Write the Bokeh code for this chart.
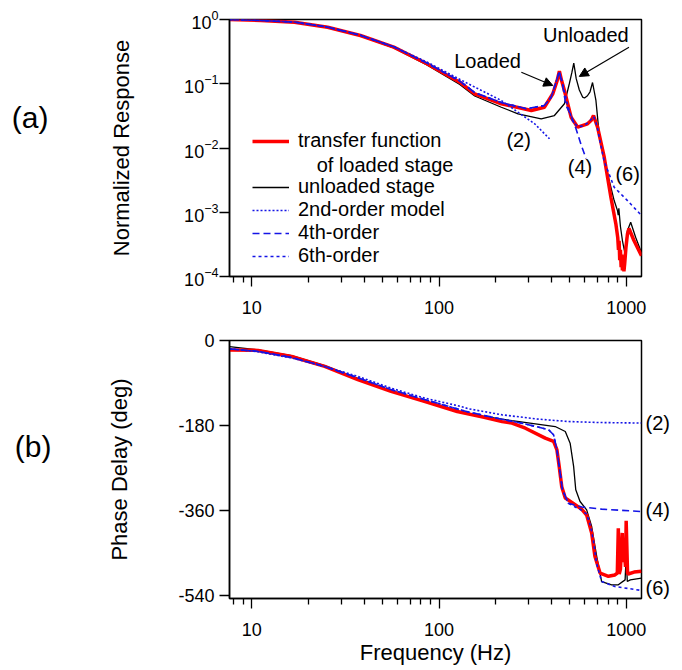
from bokeh.plotting import figure
from bokeh.layouts import column
from bokeh.models import (FixedTicker, Legend, LegendItem, Label, Arrow, NormalHead,
                          PrintfTickFormatter, Range1d, LogAxis, LinearAxis)
from bokeh.embed import file_html
from bokeh.resources import INLINE

FONT = "Liberation Sans"
RED = "#ff0000"
BLUE = "#1414e6"
BLACK = "#000000"

# ---------------- data: magnitude (panel a) ----------------
mag_f_loaded = [7.6, 11.2, 16.9, 25.4, 38.0, 57.3, 86.1, 129, 155, 215, 311, 365, 405, 427, 439,
                451, 467, 507, 550, 621, 650, 668, 685, 702, 762, 827, 879, 900, 908, 915, 922,
                930, 938, 945, 953, 962, 971, 980, 995, 1014, 1033, 1098, 1205]
mag_loaded = [1.0, 0.965, 0.908, 0.759, 0.564, 0.371, 0.205, 0.1057, 0.0698, 0.0488, 0.0384,
              0.0431, 0.0698, 0.112, 0.157, 0.112, 0.0785, 0.0302, 0.0211, 0.0238, 0.027, 0.032,
              0.026, 0.0211, 0.0072, 0.00171, 0.00066, 0.0004, 0.00026, 0.00036, 0.00018,
              0.00026, 0.00014, 0.00022, 0.000124, 0.00019, 0.00012, 0.000159, 0.00028,
              0.00046, 0.000558, 0.000363, 0.00021]

mag_f_unloaded = [7.6, 11.2, 16.9, 25.4, 38.0, 57.3, 86.1, 129, 155, 215, 264, 351, 413, 467,
                  496, 512, 524, 540, 561, 584, 598, 620, 640, 660, 688, 716, 762, 794, 861, 897,
                  905, 912, 930, 953, 980, 1014, 1055, 1121, 1205]
mag_unloaded = [1.0, 0.963, 0.903, 0.752, 0.556, 0.36, 0.196, 0.0973, 0.0645, 0.0431, 0.034,
                0.0283, 0.032, 0.0488, 0.1, 0.15, 0.21, 0.12, 0.08, 0.062, 0.06, 0.065, 0.075,
                0.1046, 0.0549, 0.0166, 0.00764, 0.00397, 0.00152, 0.00106, 0.0009, 0.00115,
                0.0006, 0.000363, 0.000239, 0.00052, 0.0007, 0.000409, 0.000235]

mag_f_2nd = [7.6, 11.2, 16.9, 25.4, 38.0, 57.3, 86.1, 143, 215, 264, 324, 389]
mag_2nd = [1.0, 0.968, 0.912, 0.765, 0.57, 0.378, 0.218, 0.1, 0.0549, 0.036, 0.0238, 0.0139]

mag_f_4th = [7.6, 11.2, 16.9, 25.4, 38.0, 57.3, 86.1, 129, 155, 215, 292, 365, 397, 421, 439,
             457, 476, 507, 538, 573, 609]
mag_4th = [1.0, 0.966, 0.91, 0.762, 0.567, 0.375, 0.21, 0.11, 0.073, 0.051, 0.0408, 0.0458,
           0.0618, 0.105, 0.155, 0.094, 0.0458, 0.032, 0.0201, 0.01135, 0.00687]

mag_f_6th = [7.6, 11.2, 16.9, 25.4, 38.0, 57.3, 86.1, 129, 155, 215, 292, 365, 397, 421, 439,
             457, 487, 517, 550, 590, 621, 650, 668, 685, 702, 731, 762, 861, 1014, 1205]
mag_6th = [1.0, 0.966, 0.91, 0.762, 0.567, 0.375, 0.21, 0.11, 0.073, 0.051, 0.0408, 0.0458,
           0.0618, 0.105, 0.155, 0.1, 0.045, 0.026, 0.0215, 0.022, 0.0245, 0.028, 0.031, 0.026,
           0.02, 0.0109, 0.0062, 0.00245, 0.00152, 0.00089]

# ---------------- data: phase (panel b) ----------------
ph_f_loaded = [7.6, 10.8, 16.3, 24.5, 36.8, 55.4, 83.4, 125, 174, 217, 245, 289, 369, 409, 426,
               438, 452, 472, 533, 578, 614, 653, 680, 724, 802, 869, 895, 906, 916, 930, 951,
               962, 975, 990, 998, 1015, 1023, 1100, 1205]
ph_loaded = [-20, -21, -34, -55, -83, -108, -129, -150.6, -163, -172, -175, -186, -207, -214,
             -232, -267, -310, -334, -348, -358, -370, -408, -458, -493, -500, -497, -493, -398,
             -495, -485, -408, -470, -444, -480, -382, -493, -495, -491, -489]

ph_f_unloaded = [7.6, 10.8, 16.3, 24.5, 36.8, 55.4, 83.4, 125, 174, 245, 327, 417, 472, 501,
                 523, 537, 566, 614, 653, 695, 738, 834, 906, 985, 998, 1012, 1050, 1205]
ph_unloaded = [-13, -20, -32, -53, -80, -106, -128, -149, -161, -170, -176.7, -182.4, -193,
               -217.6, -267, -316.6, -341.4, -359, -394.4, -458, -511, -518, -518, -507.5,
               -458, -511, -507.5, -504]

ph_f_2nd = [7.6, 10.8, 16.3, 24.5, 36.8, 55.4, 83.4, 125, 145, 217, 339, 490, 711, 1205]
ph_2nd = [-17, -24, -37, -55, -76, -101, -122, -138, -145, -157.6, -166.7, -171.8, -173.9, -175]

ph_f_4th = [7.6, 10.8, 16.3, 24.5, 36.8, 55.4, 83.4, 125, 145, 217, 289, 384, 409, 426, 438,
            456, 490, 578, 738, 1205]
ph_4th = [-18, -23, -36, -55, -79, -104, -125, -145, -152, -167, -177, -189, -200, -232, -267,
          -316.6, -345, -353, -357.6, -362.6]

ph_f_6th = [7.6, 10.8, 16.3, 24.5, 36.8, 55.4, 83.4, 125, 145, 217, 289, 384, 409, 426, 438,
            456, 490, 533, 578, 614, 645, 666, 693, 738, 869, 1205]
ph_6th = [-18, -23, -36, -55, -79, -104, -125, -145, -152, -167, -177, -189, -200, -232, -267,
          -316.6, -345, -353, -360, -368, -395, -423, -472, -511, -521.6, -530]

# axes / ticks
x_major = [10, 100, 1000]
x_minor = [8, 9, 20, 30, 40, 50, 60, 70, 80, 90, 200, 300, 400, 500, 600, 700, 800, 900]
mag_ticks = [1e-4, 1e-3, 1e-2, 1e-1, 1]
phase_ticks = [-540, -360, -180, 0]

# annotation anchors (data units)
loaded_text = (181.6, 0.222)
loaded_arrow = (275, 0.151, 405, 0.094)
unloaded_text = (608, 0.574)
unloaded_arrow = (1033, 0.371, 561, 0.130)
legend_line2 = ("of loaded stage", 22.2, 0.0055)
mag_order_labels = [("(2)", 266, 0.0131), ("(4)", 566, 0.00515), ("(6)", 1016, 0.0040)]
phase_order_labels = {-175.3: "(2)", -359.0: "(4)", -525.0: "(6)"}
panel_a_tag = {0.0298: "(a)"}
panel_b_tag = {-225.0: "(b)"}


def style(p):
    p.outline_line_color = "black"
    p.outline_line_width = 1.5
    p.outline_line_alpha = 1
    p.grid.visible = False
    for ax in list(p.xaxis) + list(p.yaxis):
        ax.axis_line_width = 1.5
        ax.major_tick_in = 0
        ax.minor_tick_in = 0
        ax.major_tick_out = 10
        ax.minor_tick_out = 6
        ax.major_tick_line_width = 1.3
        ax.minor_tick_line_width = 1.3
        ax.major_label_text_font = FONT
        ax.major_label_text_font_size = "18px"
        ax.major_label_text_color = "black"
        ax.axis_label_text_font = FONT
        ax.axis_label_text_font_size = "22px"
        ax.axis_label_text_font_style = "normal"
        ax.axis_label_text_color = "black"
    p.xaxis.ticker = FixedTicker(ticks=x_major, minor_ticks=x_minor)
    p.xaxis.formatter = PrintfTickFormatter(format="%d")
    p.xaxis.major_label_standoff = 14


def txt(p, s, x, y, size="20px", align="center"):
    p.add_layout(Label(x=x, y=y, text=s, text_font=FONT, text_font_size=size,
                       text_align=align, text_baseline="middle", text_color="black"))


def tag_axis(cls, mapping, standoff, size):
    return cls(ticker=FixedTicker(ticks=list(mapping.keys()), minor_ticks=[]),
               major_label_overrides=mapping,
               axis_line_color=None, major_tick_line_color=None,
               minor_tick_line_color=None, major_tick_out=0, minor_tick_out=0,
               major_label_standoff=standoff, major_label_text_font=FONT,
               major_label_text_font_size=size, major_label_text_color="black")


# ---------------- panel (a) ----------------
pa = figure(width=673, height=320, x_axis_type="log", y_axis_type="log",
            x_range=Range1d(7.6, 1205), y_range=Range1d(1e-4, 1),
            output_backend="svg", toolbar_location=None, title=None,
            min_border_left=227, min_border_right=32, min_border_top=19, min_border_bottom=44)
style(pa)
pa.yaxis.ticker = FixedTicker(ticks=mag_ticks, minor_ticks=[])
pa.yaxis.axis_label = "Normalized Response"
pa.yaxis.major_label_standoff = 1
pa.yaxis.axis_label_standoff = 47
pa.add_layout(tag_axis(LogAxis, panel_a_tag, 58, "30px"), "left")

r_unl = pa.line(mag_f_unloaded, mag_unloaded, line_color=BLACK, line_width=1.3)
r_ld = pa.line(mag_f_loaded, mag_loaded, line_color=RED, line_width=3.5)
r_ghost = pa.line(x=[], y=[], line_alpha=0)
r_2 = pa.line(mag_f_2nd, mag_2nd, line_color=BLUE, line_width=1.6, line_dash="2 2")
r_4 = pa.line(mag_f_4th, mag_4th, line_color=BLUE, line_width=1.6, line_dash="7 4")
r_6 = pa.line(mag_f_6th, mag_6th, line_color=BLUE, line_width=1.6, line_dash="3 3")

legend = Legend(items=[
    LegendItem(label="transfer function", renderers=[r_ld]),
    LegendItem(label="\u00a0", renderers=[r_ghost]),
    LegendItem(label="unloaded stage", renderers=[r_unl]),
    LegendItem(label="2nd-order model", renderers=[r_2]),
    LegendItem(label="4th-order", renderers=[r_4]),
    LegendItem(label="6th-order", renderers=[r_6]),
], location=(23, 9))
legend.border_line_color = None
legend.background_fill_alpha = 0
legend.padding = 0
legend.margin = 0
legend.spacing = 0
legend.glyph_width = 37
legend.glyph_height = 22
legend.label_height = 22
legend.label_standoff = 9
legend.label_text_font = FONT
legend.label_text_font_size = "20px"
legend.label_text_color = "black"
pa.add_layout(legend, "center")
txt(pa, legend_line2[0], legend_line2[1], legend_line2[2], align="left")

txt(pa, "Loaded", *loaded_text)
txt(pa, "Unloaded", *unloaded_text)
for s, x, y in mag_order_labels:
    txt(pa, s, x, y)
for (xs, ys, xe, ye) in [loaded_arrow, unloaded_arrow]:
    pa.add_layout(Arrow(x_start=xs, y_start=ys, x_end=xe, y_end=ye, line_width=1.2,
                        line_color="black",
                        end=NormalHead(size=9, fill_color="black", line_color="black")))

# ---------------- panel (b) ----------------
pb = figure(width=673, height=348, x_axis_type="log",
            x_range=Range1d(7.6, 1205), y_range=Range1d(-547, 0),
            output_backend="svg", toolbar_location=None, title=None,
            min_border_left=229, min_border_right=30, min_border_top=20, min_border_bottom=70)
style(pb)
pb.yaxis.ticker = FixedTicker(ticks=phase_ticks, minor_ticks=[])
pb.yaxis.formatter = PrintfTickFormatter(format="%d")
pb.yaxis.axis_label = "Phase Delay (deg)"
pb.yaxis.major_label_standoff = 5
pb.yaxis.axis_label_standoff = 43
pb.xaxis.axis_label = "Frequency (Hz)"
pb.xaxis.axis_label_standoff = 1
pb.add_layout(tag_axis(LinearAxis, panel_b_tag, 53, "30px"), "left")
pb.add_layout(tag_axis(LinearAxis, phase_order_labels, 4, "20px"), "right")

pb.line(ph_f_unloaded, ph_unloaded, line_color=BLACK, line_width=1.3)
pb.line(ph_f_loaded, ph_loaded, line_color=RED, line_width=3.5)
pb.line(ph_f_2nd, ph_2nd, line_color=BLUE, line_width=1.6, line_dash="2 2")
pb.line(ph_f_4th, ph_4th, line_color=BLUE, line_width=1.6, line_dash="7 4")
pb.line(ph_f_6th, ph_6th, line_color=BLUE, line_width=1.6, line_dash="3 3")

layout = column(pa, pb, spacing=0)
open("out.html", "w").write(file_html(layout, INLINE))
